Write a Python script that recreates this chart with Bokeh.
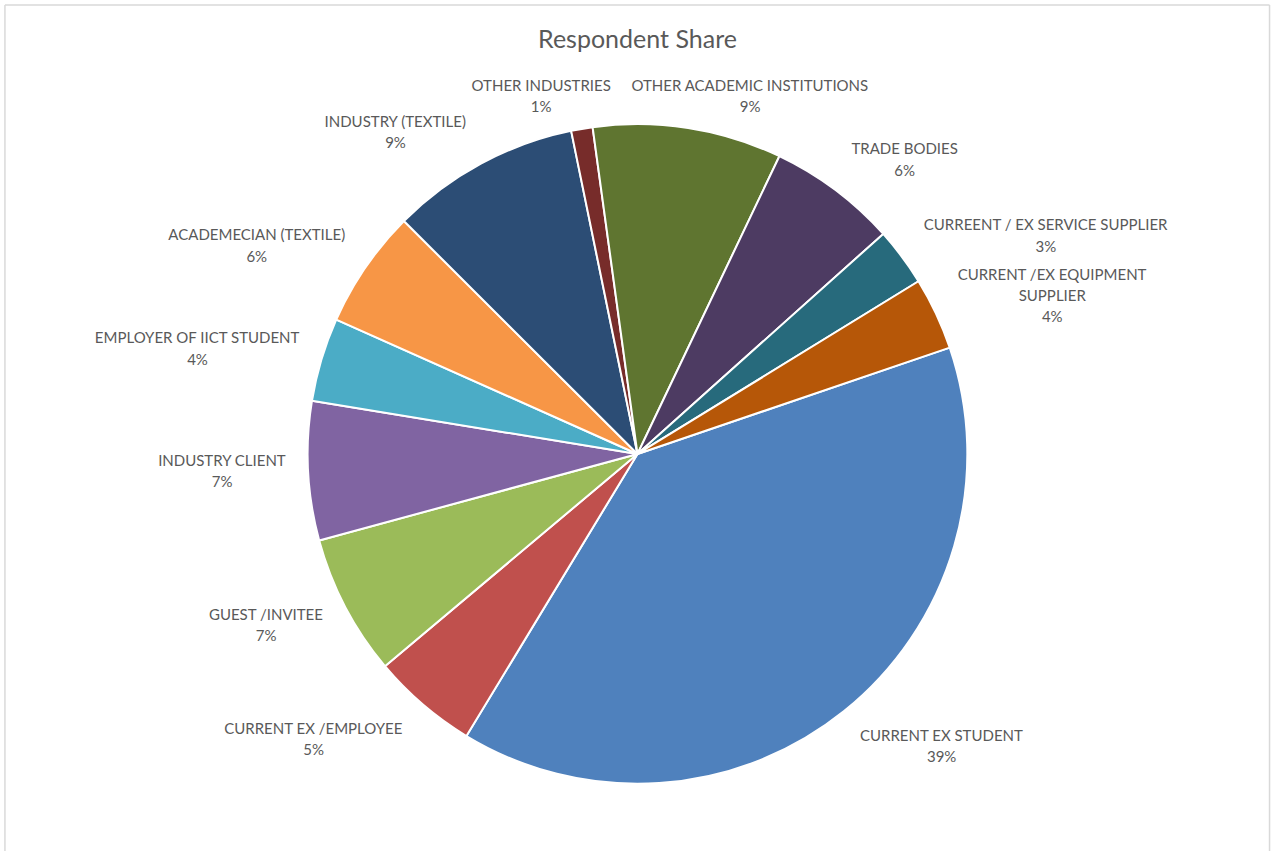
import math
from bokeh.plotting import figure
from bokeh.models import Range1d, ColumnDataSource
from bokeh.core.properties import value
from bokeh.embed import file_html
from bokeh.resources import INLINE

# ---------------- data ----------------
categories = [
    "CURRENT EX STUDENT",
    "CURRENT EX /EMPLOYEE",
    "GUEST /INVITEE",
    "INDUSTRY CLIENT",
    "EMPLOYER OF IICT STUDENT",
    "ACADEMECIAN (TEXTILE)",
    "INDUSTRY (TEXTILE)",
    "OTHER INDUSTRIES",
    "OTHER ACADEMIC INSTITUTIONS",
    "TRADE BODIES",
    "CURREENT / EX SERVICE SUPPLIER",
    "CURRENT /EX EQUIPMENT SUPPLIER",
]
shares = [38.9, 5.2, 6.9, 6.8, 4.1, 5.8, 9.3, 1.05, 9.25, 6.3, 2.85, 3.55]
colors = ["#4F81BD", "#C0504D", "#9BBB59", "#8064A2", "#4BACC6", "#F79646",
          "#2C4D75", "#772C2A", "#5F7530", "#4D3B62", "#276A7C", "#B65708"]
title_text = "Respondent Share"

# ---------------- layout ----------------
W, H = 1272, 851          # figure size in screen pixels
RW, RH = 1288, 867        # reference canvas size (data units)
def py(Y):                # reference y (down) -> data y (up)
    return RH - Y

CX, CY, R = 645, py(462), 334
FIRST_SLICE_DEG = 71.2    # clockwise from 12 o'clock

# label line breaks and label centres (reference pixels) -- annotation layout
label_lines = {
    "CURRENT /EX EQUIPMENT SUPPLIER": ["CURRENT /EX EQUIPMENT", "SUPPLIER"],
}
label_centers = [
    (953, 759), (317, 752), (269, 636), (224.5, 479), (199.5, 354), (259.5, 249),
    (400, 133.5), (547.5, 97), (759, 97), (915.5, 161.5), (1058.5, 239), (1065, 300),
]
LINE_GAP = 21.7
TEXT_COLOR = "#595959"
FONT = "Lato"

p = figure(width=W, height=H, output_backend="svg", toolbar_location=None,
           x_range=Range1d(0, RW), y_range=Range1d(0, RH), min_border=0)
p.axis.visible = False
p.xgrid.visible = False
p.ygrid.visible = False
p.outline_line_color = None
p.background_fill_color = "white"
p.border_fill_color = "white"

total = sum(shares)
starts, ends, pct = [], [], []
acc = FIRST_SLICE_DEG
for s in shares:
    deg = s / total * 360.0
    starts.append(math.radians(90 - acc))
    ends.append(math.radians(90 - (acc + deg)))
    acc += deg
    pct.append(f"{round(s / total * 100)}%")

src = ColumnDataSource(dict(start=starts, end=ends, color=colors, cat=categories))
p.wedge(x=CX, y=CY, radius=R, start_angle="start", end_angle="end",
        direction="clock", fill_color="color", line_color="white", line_width=2,
        source=src)

# labels
lx, ly, lt = [], [], []
for cat, pc, (cx, cy) in zip(categories, pct, label_centers):
    lines = label_lines.get(cat, [cat]) + [pc]
    n = len(lines)
    for i, t in enumerate(lines):
        lx.append(cx)
        ly.append(py(cy + (i - (n - 1) / 2) * LINE_GAP))
        lt.append(t)
p.text(x=lx, y=ly, text=lt, text_align="center", text_baseline="middle",
       text_font=value(FONT), text_font_size="15px", text_color=TEXT_COLOR)

# title
p.text(x=[645], y=[py(38.5)], text=[title_text], text_align="center",
       text_baseline="middle", text_font=value(FONT), text_font_size="25px",
       text_color=TEXT_COLOR)

# chart border (left, top, right)
p.segment(x0=[4.5, 4.5, 1285], y0=[0, py(4.5), py(4.5)],
          x1=[4.5, 1285, 1285], y1=[py(4.5), py(4.5), 0],
          line_color="#D9D9D9", line_width=1.5)

open("out.html", "w").write(file_html(p, INLINE))
